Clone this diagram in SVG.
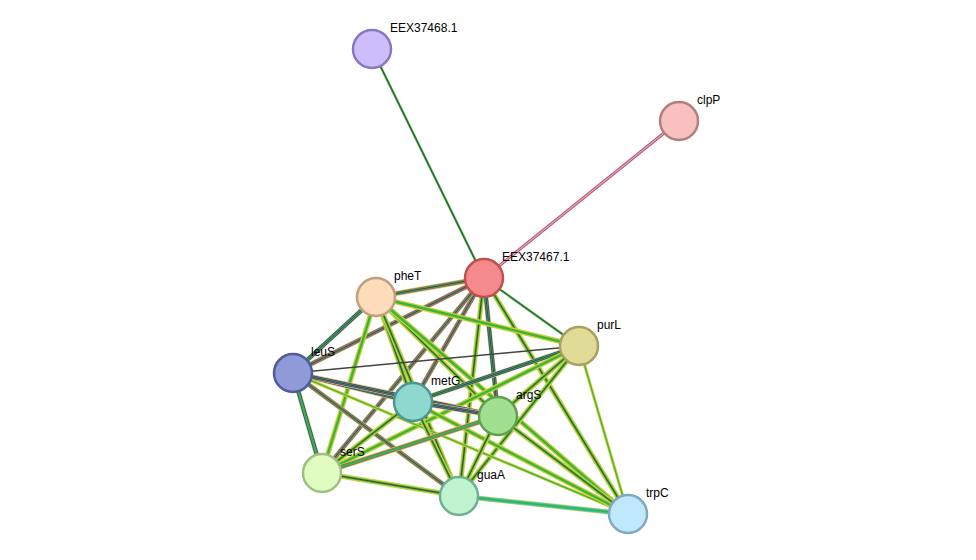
<svg xmlns="http://www.w3.org/2000/svg" width="976" height="560" viewBox="0 0 976 560">
<style>
.y{stroke:#c8d035;stroke-width:5}
.m{stroke:#c530c5;stroke-width:3.8}
.b{stroke:#3030d0;stroke-width:3.8}
.g{stroke:#3cb43c;stroke-width:2.4}
.k{stroke:#444;stroke-width:1}
line{fill:none}
.n{stroke-width:2.5}
text{font-family:"Liberation Sans",Arial,sans-serif;font-size:12px;fill:#000}
</style>
<rect width="976" height="560" fill="#fff"/>
<g id="connectors">
<line class="g" x1="372" y1="49" x2="484" y2="278"/><line class="k" x1="372" y1="49" x2="484" y2="278"/>
<line class="m" x1="679" y1="121" x2="484" y2="278" style="stroke-width:3"/><line style="stroke:#c8d035;stroke-width:1.2" x1="679" y1="121" x2="484" y2="278"/>
<g>
<line class="y" x1="484" y1="278" x2="376" y2="297"/><line class="m" x1="484" y1="278" x2="376" y2="297"/><line class="g" x1="484" y1="278" x2="376" y2="297"/><line class="k" x1="484" y1="278" x2="376" y2="297"/>
<line class="g" x1="484" y1="278" x2="579" y2="346"/><line class="k" x1="484" y1="278" x2="579" y2="346"/>
<line class="y" x1="484" y1="278" x2="293" y2="373"/><line class="m" x1="484" y1="278" x2="293" y2="373"/><line class="g" x1="484" y1="278" x2="293" y2="373"/><line class="k" x1="484" y1="278" x2="293" y2="373"/>
<line class="y" x1="484" y1="278" x2="413" y2="402"/><line class="m" x1="484" y1="278" x2="413" y2="402"/><line class="g" x1="484" y1="278" x2="413" y2="402"/><line class="k" x1="484" y1="278" x2="413" y2="402"/>
<line class="y" x1="484" y1="278" x2="498" y2="416"/><line class="b" x1="484" y1="278" x2="498" y2="416"/><line class="g" x1="484" y1="278" x2="498" y2="416"/><line class="k" x1="484" y1="278" x2="498" y2="416"/>
<line class="y" x1="484" y1="278" x2="322" y2="473"/><line class="m" x1="484" y1="278" x2="322" y2="473"/><line class="g" x1="484" y1="278" x2="322" y2="473"/><line class="k" x1="484" y1="278" x2="322" y2="473"/>
<line class="y" x1="484" y1="278" x2="459" y2="496"/><line class="g" x1="484" y1="278" x2="459" y2="496"/><line class="k" x1="484" y1="278" x2="459" y2="496"/>
<line class="y" x1="484" y1="278" x2="628" y2="514"/><line class="g" x1="484" y1="278" x2="628" y2="514"/><line class="k" x1="484" y1="278" x2="628" y2="514"/>
<line class="y" x1="376" y1="297" x2="293" y2="373"/><line class="b" x1="376" y1="297" x2="293" y2="373"/><line class="g" x1="376" y1="297" x2="293" y2="373"/><line class="k" x1="376" y1="297" x2="293" y2="373"/>
<line class="y" x1="376" y1="297" x2="413" y2="402"/><line class="g" x1="376" y1="297" x2="413" y2="402"/><line class="k" x1="376" y1="297" x2="413" y2="402"/>
<line class="y" x1="376" y1="297" x2="498" y2="416"/><line class="g" x1="376" y1="297" x2="498" y2="416"/><line class="k" x1="376" y1="297" x2="498" y2="416"/>
<line class="y" x1="376" y1="297" x2="322" y2="473"/><line class="g" x1="376" y1="297" x2="322" y2="473"/>
<line class="y" x1="376" y1="297" x2="459" y2="496"/><line class="g" x1="376" y1="297" x2="459" y2="496"/><line class="k" x1="376" y1="297" x2="459" y2="496"/>
<line class="y" x1="376" y1="297" x2="579" y2="346"/><line class="g" x1="376" y1="297" x2="579" y2="346"/>
<line class="y" x1="376" y1="297" x2="628" y2="514"/><line class="g" x1="376" y1="297" x2="628" y2="514"/>
<line class="k" x1="579" y1="346" x2="293" y2="373" style="stroke-width:1.4"/>
<line class="y" x1="579" y1="346" x2="413" y2="402"/><line class="b" x1="579" y1="346" x2="413" y2="402"/><line class="g" x1="579" y1="346" x2="413" y2="402"/><line class="k" x1="579" y1="346" x2="413" y2="402"/>
<line class="y" x1="579" y1="346" x2="498" y2="416"/><line class="g" x1="579" y1="346" x2="498" y2="416"/><line class="k" x1="579" y1="346" x2="498" y2="416"/>
<line class="y" x1="579" y1="346" x2="459" y2="496"/><line class="g" x1="579" y1="346" x2="459" y2="496"/><line class="k" x1="579" y1="346" x2="459" y2="496"/>
<line class="y" x1="579" y1="346" x2="322" y2="473"/><line class="g" x1="579" y1="346" x2="322" y2="473"/>
<line class="y" x1="579" y1="346" x2="628" y2="514" style="stroke-width:3"/><line class="g" x1="579" y1="346" x2="628" y2="514" style="stroke-width:1.2"/>
<line class="y" x1="293" y1="373" x2="413" y2="402"/><line class="m" x1="293" y1="373" x2="413" y2="402"/><line class="b" x1="293" y1="373" x2="413" y2="402" style="stroke-width:3"/><line class="g" x1="293" y1="373" x2="413" y2="402" style="stroke-width:2"/><line class="k" x1="293" y1="373" x2="413" y2="402"/>
<line class="y" x1="293" y1="373" x2="498" y2="416"/><line class="m" x1="293" y1="373" x2="498" y2="416"/><line class="b" x1="293" y1="373" x2="498" y2="416" style="stroke-width:3"/><line class="g" x1="293" y1="373" x2="498" y2="416" style="stroke-width:2"/><line class="k" x1="293" y1="373" x2="498" y2="416"/>
<line class="y" x1="293" y1="373" x2="322" y2="473"/><line class="b" x1="293" y1="373" x2="322" y2="473"/><line class="g" x1="293" y1="373" x2="322" y2="473"/>
<line class="y" x1="293" y1="373" x2="459" y2="496"/><line class="m" x1="293" y1="373" x2="459" y2="496"/><line class="g" x1="293" y1="373" x2="459" y2="496"/><line class="k" x1="293" y1="373" x2="459" y2="496"/>
<line class="y" x1="293" y1="373" x2="628" y2="514" style="stroke-width:3"/><line class="g" x1="293" y1="373" x2="628" y2="514" style="stroke-width:1.2"/>
<line class="y" x1="413" y1="402" x2="498" y2="416"/><line class="m" x1="413" y1="402" x2="498" y2="416"/><line class="b" x1="413" y1="402" x2="498" y2="416" style="stroke-width:3"/><line class="g" x1="413" y1="402" x2="498" y2="416" style="stroke-width:2"/><line class="k" x1="413" y1="402" x2="498" y2="416"/>
<line class="y" x1="413" y1="402" x2="322" y2="473"/><line class="g" x1="413" y1="402" x2="322" y2="473"/><line class="k" x1="413" y1="402" x2="322" y2="473"/>
<line class="y" x1="413" y1="402" x2="459" y2="496"/><line class="g" x1="413" y1="402" x2="459" y2="496"/><line class="k" x1="413" y1="402" x2="459" y2="496"/>
<line class="y" x1="413" y1="402" x2="628" y2="514"/><line class="g" x1="413" y1="402" x2="628" y2="514"/>
<line class="y" x1="498" y1="416" x2="322" y2="473"/><line class="m" x1="498" y1="416" x2="322" y2="473"/><line class="g" x1="498" y1="416" x2="322" y2="473"/>
<line class="y" x1="498" y1="416" x2="459" y2="496"/><line class="g" x1="498" y1="416" x2="459" y2="496"/><line class="k" x1="498" y1="416" x2="459" y2="496"/>
<line class="y" x1="498" y1="416" x2="628" y2="514"/><line class="g" x1="498" y1="416" x2="628" y2="514"/><line class="k" x1="498" y1="416" x2="628" y2="514"/>
<line class="y" x1="322" y1="473" x2="459" y2="496"/><line class="g" x1="322" y1="473" x2="459" y2="496"/><line class="k" x1="322" y1="473" x2="459" y2="496"/>
<line class="y" x1="459" y1="496" x2="628" y2="514"/><line style="stroke:#2bc0d8;stroke-width:3.5" x1="459" y1="496" x2="628" y2="514"/><line class="g" x1="459" y1="496" x2="628" y2="514" style="stroke-width:1.5"/>
</g>
</g>
<g id="EEX37468.1"><circle class="n" cx="372" cy="49" r="19" fill="#cdbdf8" stroke="#8878c0"/><text x="390" y="32">EEX37468.1</text></g>
<g id="clpP"><circle class="n" cx="679" cy="121" r="19" fill="#f8c0c0" stroke="#b08080"/><text x="697" y="104">clpP</text></g>
<g id="EEX37467.1"><circle class="n" cx="484" cy="278" r="19" fill="#f58a8a" stroke="#c05050"/><text x="502" y="261">EEX37467.1</text></g>
<g id="pheT"><circle class="n" cx="376" cy="297" r="19" fill="#fddcbc" stroke="#c0a080"/><text x="394" y="280">pheT</text></g>
<g id="purL"><circle class="n" cx="579" cy="346" r="19" fill="#e0dc98" stroke="#a8a060"/><text x="597" y="329">purL</text></g>
<g id="leuS"><circle class="n" cx="293" cy="373" r="19" fill="#8f9ad8" stroke="#505a98"/><text x="311" y="356">leuS</text></g>
<g id="metG"><circle class="n" cx="413" cy="402" r="19" fill="#8ed8d0" stroke="#4a9890"/><text x="431" y="385">metG</text></g>
<g id="argS"><circle class="n" cx="498" cy="416" r="19" fill="#a0e090" stroke="#60a050"/><text x="516" y="399">argS</text></g>
<g id="serS"><circle class="n" cx="322" cy="473" r="19" fill="#e0fcc0" stroke="#a0c080"/><text x="340" y="456">serS</text></g>
<g id="guaA"><circle class="n" cx="459" cy="496" r="19" fill="#c0f4d0" stroke="#70b090"/><text x="477" y="479">guaA</text></g>
<g id="trpC"><circle class="n" cx="628" cy="514" r="19" fill="#c0e8fc" stroke="#80a8c0"/><text x="646" y="497">trpC</text></g>
</svg>
